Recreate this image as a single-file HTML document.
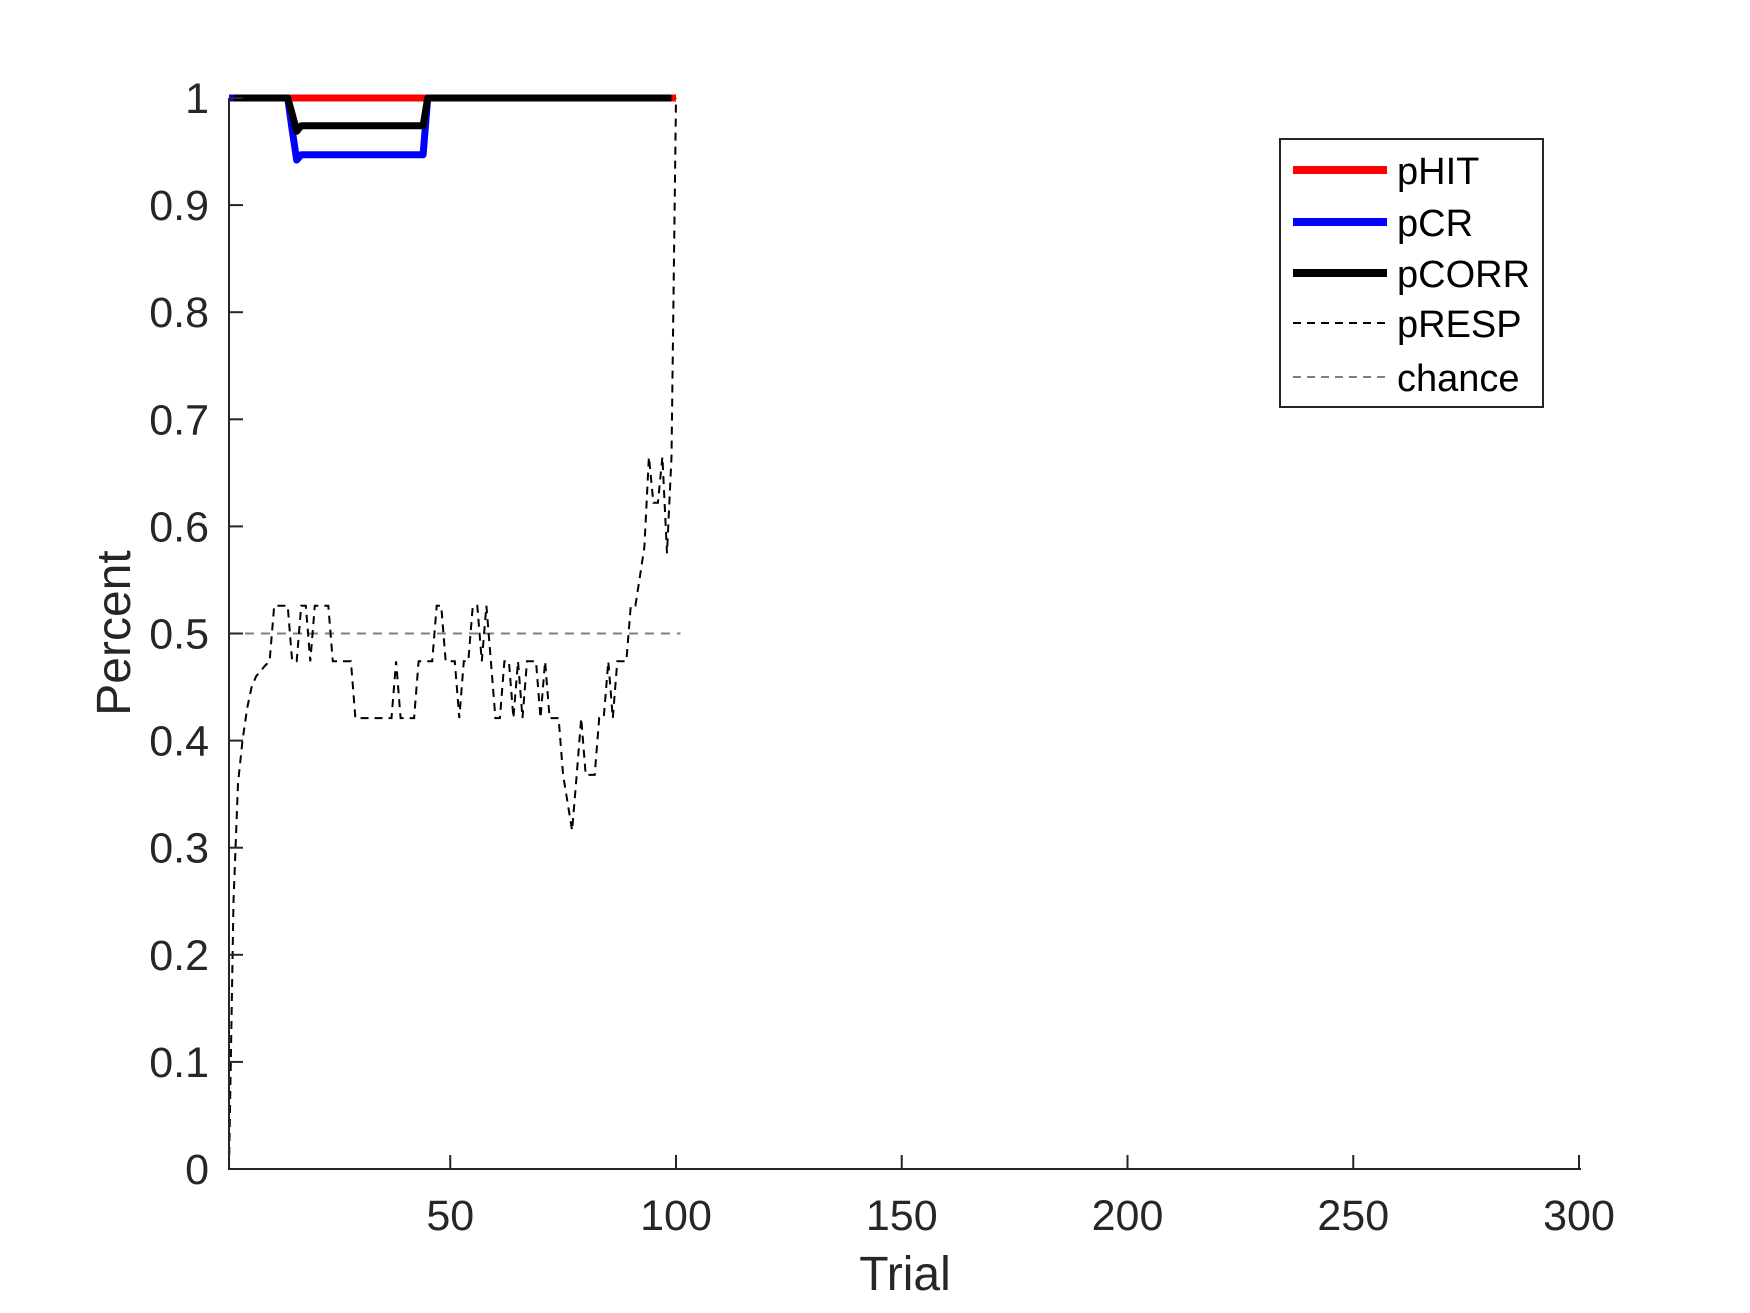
<!DOCTYPE html>
<html><head><meta charset="utf-8"><style>
html,body{margin:0;padding:0;background:#fff}
svg{display:block;font-family:"Liberation Sans",Arial,sans-serif}
</style></head><body>
<svg id="chart" width="1750" height="1313" viewBox="0 0 1750 1313">
<g id="plot"></g>
<g id="axes"></g>
<g id="legend"></g>
</svg>
<script>
const trials = Array.from({length:100}, (_, i) => i + 1);
const pRESP = [0,0.25,0.36,0.40,0.43,0.45,0.46,0.465,0.47,0.474,
0.526,0.526,0.526,0.526,0.474,0.474,0.526,0.526,0.474,0.526,
0.526,0.526,0.526,0.474,0.474,0.474,0.474,0.474,0.421,0.421,
0.421,0.421,0.421,0.421,0.421,0.421,0.421,0.474,0.421,0.421,
0.421,0.421,0.474,0.474,0.474,0.474,0.526,0.526,0.474,0.474,
0.474,0.421,0.474,0.474,0.526,0.526,0.474,0.526,0.474,0.421,
0.421,0.474,0.474,0.421,0.474,0.421,0.474,0.474,0.474,0.421,
0.474,0.421,0.421,0.421,0.368,0.342,0.316,0.368,0.421,0.368,
0.368,0.368,0.421,0.421,0.474,0.421,0.474,0.474,0.474,0.526,
0.526,0.553,0.581,0.665,0.622,0.622,0.665,0.575,0.665,1.0];
const pHIT = trials.map(t => t === 1 ? null : 1);
const pCR = trials.map(t => t >= 100 ? null : (t === 15 ? 0.97 : t === 16 ? 0.942 : (t >= 17 && t <= 44) ? 0.947 : 1));
const pCORR = trials.map(t => (t === 1 || t >= 100) ? null : (t === 15 ? 0.985 : t === 16 ? 0.969 : (t >= 17 && t <= 44) ? 0.974 : 1));
const chanceX = [1, 101];
const chanceY = [0.5, 0.5];
const xTicks = [50,100,150,200,250,300];
const yTicks = [0,0.1,0.2,0.3,0.4,0.5,0.6,0.7,0.8,0.9,1];
const yTickLabels = ["0","0.1","0.2","0.3","0.4","0.5","0.6","0.7","0.8","0.9","1"];
const legendLabels = ["pHIT","pCR","pCORR","pRESP","chance"];

const NS = "http://www.w3.org/2000/svg";
const X0 = 229, X1 = 1579, Y0 = 1169, Y1 = 98;
const xs = v => X0 + (v - 1) / 299 * (X1 - X0);
const ys = v => Y0 - v * (Y0 - Y1);
function mk(tag, attrs, parent){const e=document.createElementNS(NS,tag);for(const k in attrs)e.setAttribute(k,attrs[k]);parent.appendChild(e);return e;}
function pathFrom(xv, yv){let d="",pen=false;for(let i=0;i<xv.length;i++){if(yv[i]==null){pen=false;continue;}d+=(pen?"L":"M")+xs(xv[i]).toFixed(1)+" "+ys(yv[i]).toFixed(1);pen=true;}return d;}
const plot = document.getElementById("plot");

let p = mk("path",{d:pathFrom(chanceX,chanceY),fill:"none",stroke:"#808080","stroke-width":2,"stroke-dasharray":"9,7"},plot);


p = mk("path",{d:pathFrom(trials,pRESP),fill:"none",stroke:"#000","stroke-width":2,"stroke-dasharray":"8,6"},plot);


p = mk("path",{d:pathFrom(trials,pHIT),fill:"none",stroke:"#ff0000","stroke-width":7,"stroke-linejoin":"round"},plot);


p = mk("path",{d:pathFrom(trials,pCR),fill:"none",stroke:"#0000ff","stroke-width":7,"stroke-linejoin":"round"},plot);


p = mk("path",{d:pathFrom(trials,pCORR),fill:"none",stroke:"#000","stroke-width":7,"stroke-linejoin":"round"},plot);



const axes = document.getElementById("axes");
let a = mk("line",{x1:X0,y1:Y0,x2:1581,y2:Y0,stroke:"#262626","stroke-width":2},axes);


a = mk("line",{x1:X0,y1:Y0+1,x2:X0,y2:Y1,stroke:"#262626","stroke-width":2},axes);


xTicks.forEach(v=>{
  const t = mk("line",{x1:xs(v),y1:Y0,x2:xs(v),y2:Y0-14,stroke:"#262626","stroke-width":2},axes);
  
  
  const l = mk("text",{x:xs(v),y:1230,"text-anchor":"middle","font-size":43,fill:"#262626"},axes);
  l.textContent = String(v);
  
  
});
yTicks.forEach((v,i)=>{
  const t = mk("line",{x1:X0,y1:ys(v),x2:X0+14,y2:ys(v),stroke:"#262626","stroke-width":2},axes);
  
  
  const l = mk("text",{x:209,y:ys(v)+15,"text-anchor":"end","font-size":43,fill:"#262626"},axes);
  l.textContent = yTickLabels[i];
  
  
});
let xt = mk("text",{x:905,y:1290,"text-anchor":"middle","font-size":48,fill:"#262626"},axes);
xt.textContent="Trial";


let yt = mk("text",{x:0,y:0,"text-anchor":"middle","font-size":48,fill:"#262626",transform:"translate(130,633) rotate(-90)"},axes);
yt.textContent="Percent";



const lg = document.getElementById("legend");
let box = mk("rect",{x:1280,y:139,width:263,height:268,fill:"#fff",stroke:"#262626","stroke-width":2},lg);


const lgY = [170,222,273,323,377];
const lgStyle = [["#ff0000",8,null],["#0000ff",8,null],["#000",8,null],["#000",2,"8,6"],["#808080",2,"8,6"]];
legendLabels.forEach((name,i)=>{
  const attrs = {x1:1293,y1:lgY[i],x2:1387,y2:lgY[i],stroke:lgStyle[i][0],"stroke-width":lgStyle[i][1]};
  if(lgStyle[i][2]) attrs["stroke-dasharray"]=lgStyle[i][2];
  const ln = mk("line",attrs,lg);
  
  
  const tx = mk("text",{x:1397,y:lgY[i]+14,"font-size":38,fill:"#000"},lg);
  tx.textContent = name;
  
  
});
</script>
</body></html>
